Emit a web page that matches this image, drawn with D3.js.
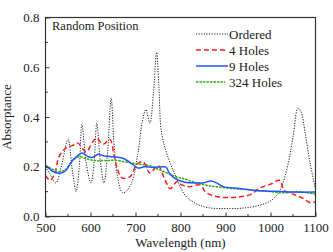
<!DOCTYPE html>
<html>
<head>
<meta charset="utf-8">
<script src="https://cdn.jsdelivr.net/npm/d3@7.9.0/dist/d3.min.js"></script>
<style>
  body { margin: 0; background: #fff; }
  svg text { font-family: "Times New Roman", "Liberation Serif", "DejaVu Serif", serif; fill: #222; }
</style>
</head>
<body>
<svg id="chart" width="333" height="252"></svg>
<script>
// --- data (wavelength nm, absorptance) ---
const ordered = [
  [500, 0.20], [510, 0.17], [523, 0.135], [535, 0.20], [550, 0.31], [560, 0.18],
  [568, 0.10], [575, 0.20], [581, 0.37], [590, 0.22], [601, 0.135], [608, 0.22],
  [614, 0.375], [622, 0.22], [630, 0.135], [638, 0.26], [646, 0.476], [652, 0.30],
  [660, 0.16], [672, 0.094], [690, 0.13], [705, 0.25], [715, 0.38], [723, 0.43],
  [732, 0.375], [740, 0.50], [747, 0.66], [752, 0.52], [758, 0.335], [772, 0.24],
  [790, 0.16], [810, 0.086], [832, 0.054], [860, 0.036], [900, 0.032], [940, 0.034],
  [977, 0.046], [1003, 0.066], [1021, 0.106], [1039, 0.21], [1050, 0.32], [1061, 0.435],
  [1068, 0.42], [1077, 0.335], [1088, 0.215], [1100, 0.11]
];
const holes4 = [
  [500, 0.165], [510, 0.145], [520, 0.17], [530, 0.24], [545, 0.275], [560, 0.285],
  [572, 0.295], [590, 0.26], [605, 0.30], [614, 0.315], [628, 0.29], [643, 0.31],
  [652, 0.25], [660, 0.19], [670, 0.155], [688, 0.16], [703, 0.21], [717, 0.22],
  [732, 0.175], [750, 0.205], [765, 0.15], [777, 0.112], [792, 0.14], [803, 0.127],
  [820, 0.12], [843, 0.127], [858, 0.095], [888, 0.078], [925, 0.078], [955, 0.088],
  [977, 0.115], [1000, 0.13], [1021, 0.145], [1030, 0.105], [1050, 0.09], [1070, 0.075],
  [1090, 0.055], [1100, 0.06]
];
const holes9 = [
  [500, 0.205], [510, 0.19], [520, 0.178], [535, 0.175], [545, 0.185], [560, 0.225],
  [575, 0.25], [582, 0.255], [595, 0.24], [605, 0.238], [617, 0.25], [630, 0.243],
  [650, 0.24], [670, 0.235], [690, 0.215], [705, 0.195], [720, 0.2], [740, 0.197],
  [760, 0.2], [768, 0.198], [775, 0.175], [790, 0.15], [810, 0.138], [830, 0.135],
  [850, 0.135], [868, 0.143], [880, 0.135], [895, 0.12], [930, 0.113], [960, 0.106],
  [1000, 0.102], [1050, 0.098], [1100, 0.098]
];
const holes324 = [
  [500, 0.205], [515, 0.19], [530, 0.18], [545, 0.19], [560, 0.225], [575, 0.24],
  [590, 0.232], [610, 0.225], [630, 0.225], [660, 0.225], [690, 0.215], [710, 0.21],
  [730, 0.205], [750, 0.19], [770, 0.175], [790, 0.16], [810, 0.15], [830, 0.138],
  [860, 0.125], [900, 0.115], [950, 0.108], [1000, 0.1], [1030, 0.095], [1060, 0.1],
  [1100, 0.09]
];

const seriesNames = ['Ordered', '4 Holes', '9 Holes', '324 Holes'];
const xTicks = [500, 600, 700, 800, 900, 1000, 1100];
const yTicks = [0.0, 0.2, 0.4, 0.6, 0.8];

const series = [
  { name: seriesNames[0], data: ordered, color: '#222', width: 1, dash: '1.2,1.4' },
  { name: seriesNames[1], data: holes4, color: '#ff1a1a', width: 1.5, dash: '5,3' },
  { name: seriesNames[2], data: holes9, color: '#2255ff', width: 1.5, dash: null },
  { name: seriesNames[3], data: holes324, color: '#33aa11', width: 1.5, dash: '2.5,1' }
];

const FONT = '"Times New Roman", "Liberation Serif", "DejaVu Serif", serif';

const svg = d3.select('#chart');
const margin = { left: 45.5, right: 17.5, top: 17.5, bottom: 35.5 };
const W = 333, H = 252;

const x = d3.scaleLinear().domain([500, 1100]).range([margin.left, W - margin.right]);
const y = d3.scaleLinear().domain([0, 0.8]).range([H - margin.bottom, margin.top]);

// clip to plot area
svg.append('clipPath').attr('id', 'clip')
  .append('rect')
  .attr('x', x(500)).attr('y', y(0.8))
  .attr('width', x(1100) - x(500)).attr('height', y(0) - y(0.8));

const line = d3.line()
  .x(d => x(d[0]))
  .y(d => y(d[1]))
  .curve(d3.curveCatmullRom.alpha(0.5));

const g = svg.append('g').attr('clip-path', 'url(#clip)');
// draw Ordered first so it sits at the back
[series[0], series[1], series[3], series[2]].forEach(s => {
  g.append('path')
    .datum(s.data)
    .attr('fill', 'none')
    .attr('stroke', s.color)
    .attr('stroke-width', s.width)
    .attr('stroke-dasharray', s.dash)
    .attr('d', line);
});

// axes with inward ticks
const xAxis = d3.axisBottom(x).tickValues(xTicks).tickSize(-4).tickPadding(6).tickFormat(d3.format('d'));
const yAxis = d3.axisLeft(y).tickValues(yTicks).tickSize(-4).tickPadding(6).tickFormat(d3.format('.1f'));

const gx = svg.append('g').attr('transform', `translate(0,${y(0)})`).call(xAxis);
const gy = svg.append('g').attr('transform', `translate(${x(500)},0)`).call(yAxis);

// minor ticks
const xMinor = d3.range(550, 1100, 100);
const yMinor = d3.range(0.1, 0.8, 0.2);
svg.append('g').selectAll('line').data(xMinor).join('line')
  .attr('x1', d => x(d)).attr('x2', d => x(d))
  .attr('y1', y(0)).attr('y2', y(0) - 2.5)
  .attr('stroke', '#333').attr('stroke-width', 1);
svg.append('g').selectAll('line').data(yMinor).join('line')
  .attr('x1', x(500)).attr('x2', x(500) + 2.5)
  .attr('y1', d => y(d)).attr('y2', d => y(d))
  .attr('stroke', '#333').attr('stroke-width', 1);

[gx, gy].forEach(a => {
  a.attr('font-family', FONT);
  a.select('.domain').remove();
  a.selectAll('.tick line').attr('stroke', '#333');
  a.selectAll('.tick text')
    .attr('font-family', FONT)
    .attr('font-size', 13)
    .attr('fill', '#222');
});

// frame
svg.append('rect')
  .attr('x', x(500)).attr('y', y(0.8))
  .attr('width', x(1100) - x(500)).attr('height', y(0) - y(0.8))
  .attr('fill', 'none').attr('stroke', '#333').attr('stroke-width', 1.2);

// titles
svg.append('text')
  .attr('x', (x(500) + x(1100)) / 2).attr('y', 247)
  .attr('text-anchor', 'middle').attr('font-family', FONT).attr('font-size', 13)
  .text('Wavelength (nm)');
svg.append('text')
  .attr('transform', `translate(11,${(y(0) + y(0.8)) / 2}) rotate(-90)`)
  .attr('text-anchor', 'middle').attr('font-family', FONT).attr('font-size', 13)
  .text('Absorptance');

svg.append('text')
  .attr('x', 52).attr('y', 30)
  .attr('font-family', FONT).attr('font-size', 12.5)
  .text('Random Position');

// legend
const legend = svg.append('g');
series.forEach((s, i) => {
  const ly = 34 + i * 16;
  legend.append('line')
    .attr('x1', 196).attr('x2', i === 3 ? 225 : 228)
    .attr('y1', ly).attr('y2', ly)
    .attr('stroke', s.color).attr('stroke-width', s.width)
    .attr('stroke-dasharray', s.dash);
  legend.append('text')
    .attr('x', 229).attr('y', ly + 4.5)
    .attr('font-family', FONT).attr('font-size', 13)
    .text(s.name);
});
</script>
</body>
</html>
